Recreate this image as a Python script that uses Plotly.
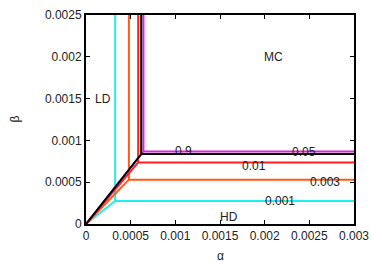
import plotly.graph_objects as go

# Phase-boundary corners for each parameter value
series_labels = ["0.001", "0.003", "0.01", "0.05", "0.9"]
corner_alpha = [0.000326, 0.00048, 0.000584, 0.000643, 0.000618]
corner_beta = [0.000275, 0.00053, 0.000736, 0.000867, 0.000837]
series_colors = ["#22eeee", "#ff5a14", "#ff2020", "#dd22dd", "#000000"]

alpha_max = 0.003
beta_max = 0.0025

x_ticks = [0, 0.0005, 0.001, 0.0015, 0.002, 0.0025, 0.003]
x_tick_text = ["0", "0.0005", "0.001", "0.0015", "0.002", "0.0025", "0.003"]
y_ticks = [0, 0.0005, 0.001, 0.0015, 0.002, 0.0025]
y_tick_text = ["0", "0.0005", "0.001", "0.0015", "0.002", "0.0025"]

# curve labels (position in data units)
label_text = ["0.9", "0.05", "0.01", "0.003", "0.001"]
label_alpha = [0.00109, 0.00244, 0.00188, 0.00267, 0.00217]
label_beta = [0.000875, 0.00086, 0.000694, 0.0005, 0.000277]

region_text = ["LD", "MC", "HD"]
region_alpha = [0.00019, 0.0021, 0.0016]
region_beta = [0.0015, 0.002, 0.000085]

fig = go.Figure()
for a, b, c in zip(corner_alpha, corner_beta, series_colors):
    fig.add_trace(go.Scatter(
        x=[0, a, a, None, a, alpha_max],
        y=[0, b, beta_max, None, b, b],
        mode="lines", line=dict(color=c, width=2),
        showlegend=False, hoverinfo="skip"))

font = dict(family="Liberation Sans, Arial, sans-serif", size=12, color="#222")
for t, a, b in zip(label_text + region_text, label_alpha + region_alpha, label_beta + region_beta):
    fig.add_annotation(x=a, y=b, text=t, showarrow=False, font=font,
                       xanchor="center", yanchor="middle")

# axis titles
fig.add_annotation(xref="paper", yref="paper", x=0.5, y=0, yshift=-32, text="α",
                   showarrow=False, font=font, xanchor="center", yanchor="middle")
fig.add_annotation(xref="paper", yref="paper", x=0, y=0.5, text="β", showarrow=False,
                   font=font, textangle=-90, xanchor="center", yanchor="middle", xshift=-72)

axis_common = dict(showgrid=False, zeroline=False, showline=True, linecolor="black",
                   linewidth=2, mirror="ticks", ticks="inside", ticklen=4,
                   tickcolor="black", tickwidth=1, tickfont=font, automargin=False)

fig.update_xaxes(range=[0, alpha_max], tickvals=x_ticks, ticktext=x_tick_text, **axis_common)
fig.update_yaxes(range=[0, beta_max], tickvals=y_ticks, ticktext=y_tick_text, **axis_common)

fig.update_layout(width=374, height=262, margin=dict(l=86, r=20, t=15, b=38),
                  plot_bgcolor="white", paper_bgcolor="white", font=font)

fig.write_html("out.html", config={"displayModeBar": False},
               post_script="document.body.style.margin='0';")
